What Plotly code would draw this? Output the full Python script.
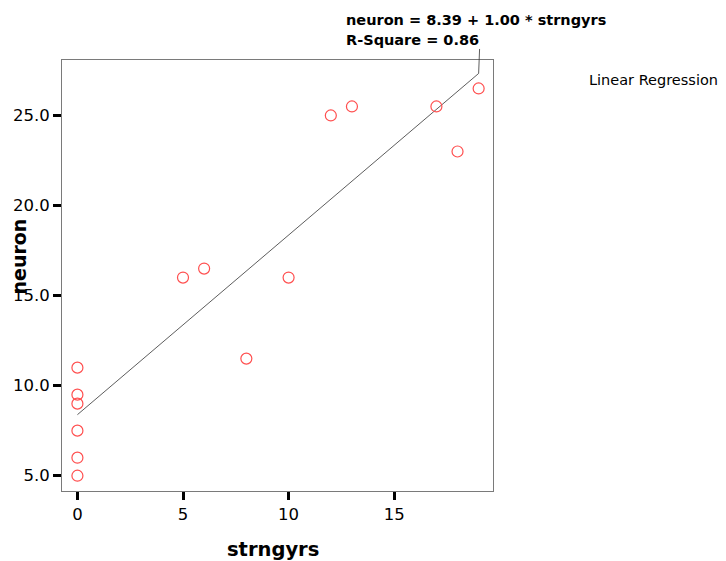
import numpy as np
import plotly.graph_objects as go

# Data
strngyrs = [0, 0, 0, 0, 0, 0, 5, 6, 8, 10, 12, 13, 17, 18, 19]
neuron = [11, 9.5, 9, 7.5, 6, 5, 16, 16.5, 11.5, 16, 25, 25.5, 25.5, 23, 26.5]

x_ticks = [0, 5, 10, 15]
y_ticks = [5, 10, 15, 20, 25]
y_tick_labels = ["5.0", "10.0", "15.0", "20.0", "25.0"]

eq_text = "neuron = 8.39 + 1.00 * strngyrs"
r2_text = "R-Square = 0.86"
legend_text = "Linear Regression"

# Least-squares fit
slope, intercept = np.polyfit(strngyrs, neuron, 1)
fit_x = np.linspace(min(strngyrs), max(strngyrs), 50)
fit_y = intercept + slope * fit_x

FONT = "DejaVu Sans"

fig = go.Figure()
fig.add_trace(go.Scatter(
    x=fit_x, y=fit_y, mode="lines",
    line=dict(color="#333333", width=0.8),
    showlegend=False, hoverinfo="skip",
))
fig.add_trace(go.Scatter(
    x=strngyrs, y=neuron, mode="markers",
    marker=dict(symbol="circle-open", size=11, color="#ff4f4f",
                line=dict(width=1.2, color="#ff4f4f")),
    showlegend=False,
))

axis_common = dict(
    showline=True, mirror=True, linecolor="#7a7a7a", linewidth=1,
    showgrid=False, zeroline=False, automargin=False,
    ticks="outside", ticklen=8, tickwidth=3, tickcolor="black",
    tickfont=dict(family=FONT, size=16.5, color="black"),
)

# plot area: 431 x 431 px
PW = 431.0

fig.update_layout(
    width=718, height=553, autosize=False,
    margin=dict(l=54, r=233, t=52, b=70),
    paper_bgcolor="white", plot_bgcolor="white",
    font=dict(family=FONT, color="black"),
    xaxis=dict(range=[-0.73, 19.68], tickvals=x_ticks,
               ticktext=[str(v) for v in x_ticks], **axis_common),
    yaxis=dict(range=[4.15, 28.08], tickvals=y_ticks,
               ticktext=y_tick_labels, **axis_common),
)

x_end = max(strngyrs)
y_end = intercept + slope * x_end


def px(xp):
    return (xp - 62) / PW


def py(yp):
    return (491 - yp) / PW


annotations = [
    # leader line from end of the fit line to the equation label
    dict(x=x_end, y=y_end, xref="x", yref="y", text="", showarrow=True,
         arrowhead=0, arrowwidth=0.8, arrowcolor="#333333", ax=1, ay=-26,
         standoff=0, startstandoff=0),
    dict(x=px(344), y=py(20), xref="paper", yref="paper",
         text="<b>" + eq_text + "</b>", showarrow=False, xanchor="left",
         yanchor="middle", font=dict(family=FONT, size=14.5, color="black")),
    dict(x=px(344), y=py(40), xref="paper", yref="paper",
         text="<b>" + r2_text + "</b>", showarrow=False, xanchor="left",
         yanchor="middle", font=dict(family=FONT, size=14.5, color="black")),
    dict(x=px(587), y=py(80), xref="paper", yref="paper",
         text=legend_text, showarrow=False, xanchor="left", yanchor="middle",
         font=dict(family=FONT, size=14.5, color="black")),
    dict(x=px(273), y=py(549), xref="paper", yref="paper",
         text="<b>strngyrs</b>", showarrow=False, xanchor="center",
         yanchor="middle", font=dict(family=FONT, size=19.5, color="black")),
    dict(x=px(18.5), y=py(257), xref="paper", yref="paper",
         text="<b>neuron</b>", showarrow=False, xanchor="center",
         yanchor="middle", textangle=-90,
         font=dict(family=FONT, size=19, color="black")),
]
fig.update_layout(annotations=annotations)

fig.write_html("out.html")
